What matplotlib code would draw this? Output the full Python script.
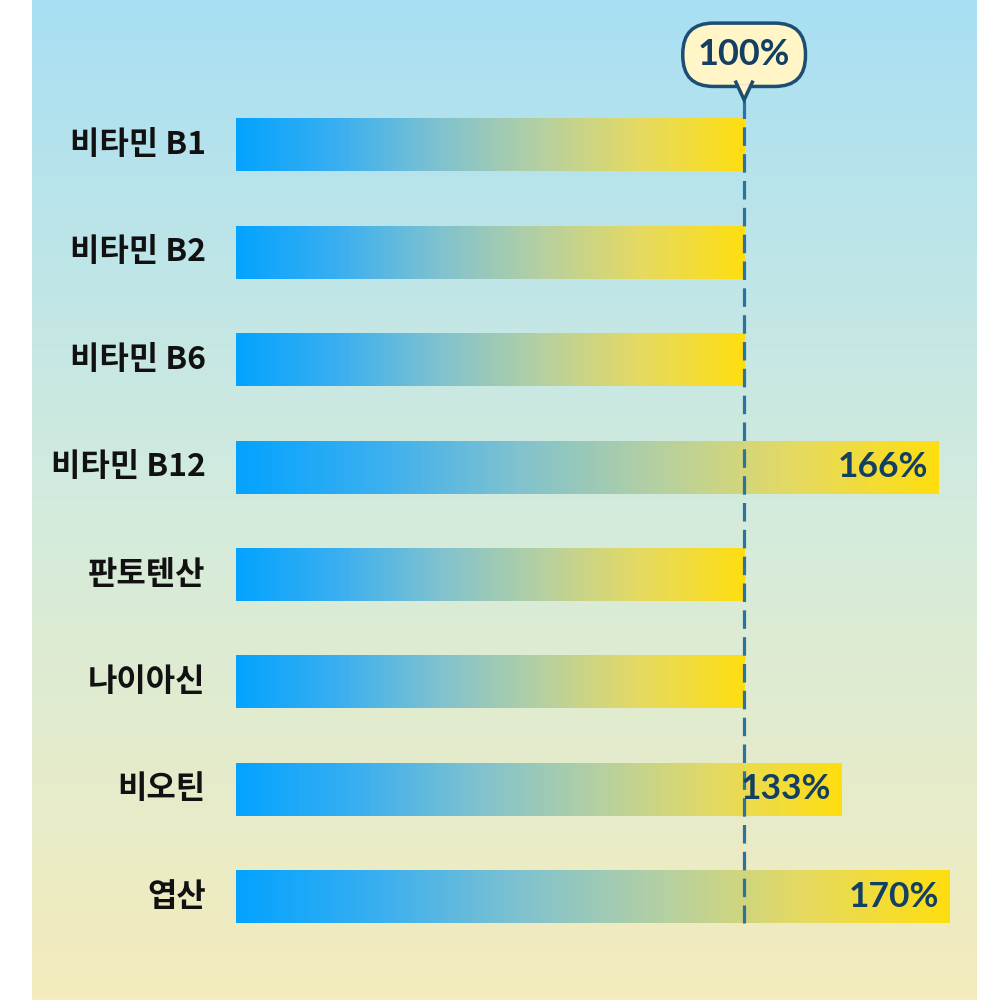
import numpy as np
import matplotlib.pyplot as plt
from matplotlib.colors import LinearSegmentedColormap
from matplotlib.patches import Polygon

plt.rcParams['font.family'] = ['Noto Sans CJK KR', 'DejaVu Sans']

nutrients = ["비타민 B1", "비타민 B2", "비타민 B6", "비타민 B12",
             "판토텐산", "나이아신", "비오틴", "엽산"]
percent = [100, 100, 100, 166, 100, 100, 133, 170]
reference = 100

BAR_START = -73.0   # bars are drawn from here (the original scale is not zero based)
BAR_H = 0.49

bg_cmap = LinearSegmentedColormap.from_list("bg", ["#a8dff3", "#d3ebdd", "#f4ecbc"])
bar_cmap = LinearSegmentedColormap.from_list(
    "bar", ["#03a3ff", "#3aaff0", "#80c2cf", "#b5d0a2", "#e6da60", "#ffde10"])

fig = plt.figure(figsize=(10, 10), dpi=100)
fig.patch.set_facecolor("white")

# background panel
bg = fig.add_axes([0.032, 0, 0.945, 1])
bg.imshow(np.linspace(0, 1, 256).reshape(-1, 1), aspect="auto", cmap=bg_cmap,
          extent=[0, 1, 0, 1])
bg.axis("off")

ax = fig.add_axes([0, 0, 1, 1], facecolor="none")

hgrad = np.linspace(0, 1, 256).reshape(1, -1)
for i, (name, v) in enumerate(zip(nutrients, percent)):
    ax.imshow(hgrad, aspect="auto", cmap=bar_cmap, zorder=2,
              extent=[BAR_START, v, i + BAR_H / 2, i - BAR_H / 2])
    ax.text(BAR_START - 10.3, i, name, ha="right", va="center", fontsize=23,
            fontweight="bold", color="#111111")
    if v > reference:
        ax.text(v - 3.5, i, f"{v}%", ha="right", va="center", fontsize=25.5,
                fontweight="bold", color="#133f62", zorder=5,
                family=["Lato", "DejaVu Sans"])

# 100% reference line
ax.plot([reference, reference], [-0.42, len(percent) - 1 + BAR_H / 2],
        color="#2a72a0", lw=2.3, ls=(0, (5.8, 2.6)), zorder=4)

# bubble
ax.text(reference, -0.84, f"{reference}%", ha="center", va="center", fontsize=26,
        fontweight="bold", color="#143f63", zorder=6, family=["Lato", "DejaVu Sans"],
        bbox=dict(boxstyle="round,pad=0.42,rounding_size=0.85", fc="#fff5c6",
                  ec="#1c4e73", lw=2.5))
tri = Polygon([[reference - 2.8, -0.565], [reference + 2.8, -0.565], [reference, -0.42]],
              closed=True, fc="#fff5c6", ec="none", zorder=7)
ax.add_patch(tri)
ax.plot([reference - 2.8, reference, reference + 2.8], [-0.585, -0.42, -0.585],
        color="#1c4e73", lw=2.5, zorder=8, solid_joinstyle="miter")

ax.set_xlim(-153.3, 187.1)
ax.set_ylim(7.96, -1.35)
ax.axis("off")

fig.savefig("out.png", dpi=100)
